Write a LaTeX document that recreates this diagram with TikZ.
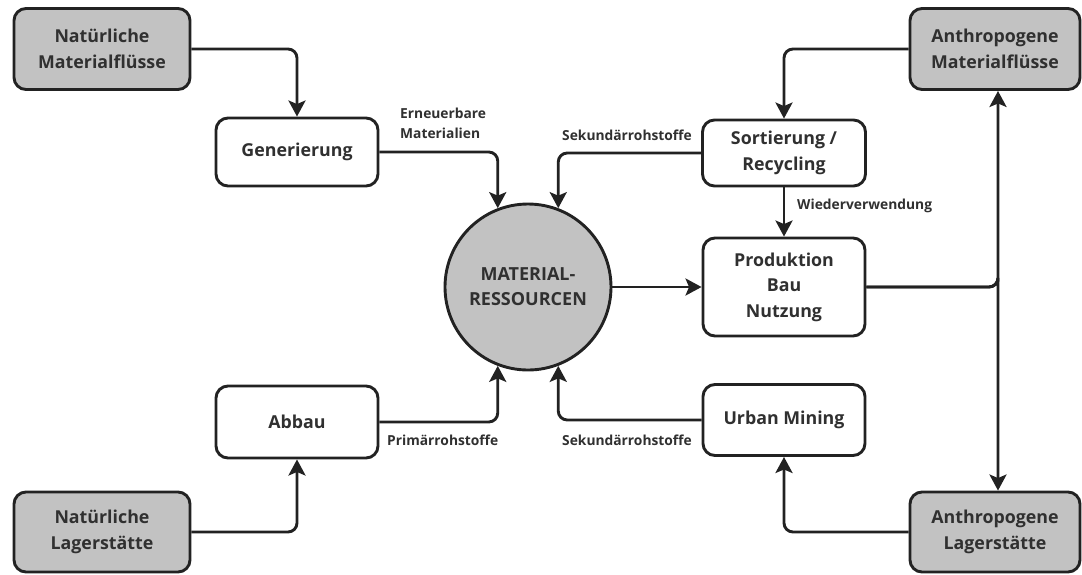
\documentclass[tikz,border=0pt]{standalone}
\usepackage{fontspec}
\setmainfont{Open Sans}
\usetikzlibrary{arrows.meta}

\definecolor{linec}{HTML}{222222}
\definecolor{textc}{HTML}{303030}
\definecolor{grayf}{HTML}{C2C2C2}

\begin{document}
\begin{tikzpicture}[x=1pt,y=-1pt,
  box/.style={draw=linec, line width=2.9pt, rounded corners=12pt, fill=white,
    align=center, text=textc, inner sep=0pt,
    font=\bfseries\fontsize{17.8}{25.5}\selectfont},
  store/.style={box, fill=grayf},
  flow/.style={draw=linec, line width=2.9pt, rounded corners=9pt,
    -{Stealth[length=16pt,width=17pt,inset=3.5pt]}},
  tag/.style={text=textc, inner sep=0pt, align=left,
    font=\bfseries\fontsize{13.8}{20}\selectfont}]
\useasboundingbox (0,0) rectangle (1082,574);

% Stores
\node[store, minimum width=176pt, minimum height=81pt] (natmat)  at (102,49)  {Natürliche\\Materialflüsse};
\node[store, minimum width=170pt, minimum height=81pt] (anthmat) at (995,49)  {Anthropogene\\Materialflüsse};
\node[store, minimum width=176pt, minimum height=80pt] (natlag)  at (102,532) {Natürliche\\Lagerstätte};
\node[store, minimum width=170pt, minimum height=80pt] (anthlag) at (995,532) {Anthropogene\\Lagerstätte};

% Processes
\node[box, minimum width=162pt, minimum height=68pt] (gen)   at (297,152) {Generierung};
\node[box, minimum width=162pt, minimum height=72pt] (abbau) at (297,422) {Abbau};
\node[box, minimum width=163pt, minimum height=66pt] (sort)  at (784,153) {Sortierung /\\Recycling};
\node[box, minimum width=162pt, minimum height=98pt] (prod)  at (784,287) {Produktion\\Bau\\Nutzung};
\node[box, minimum width=162pt, minimum height=71pt] (urban) at (784,420) {Urban Mining};

% Central resource pool
\node[circle, draw=linec, line width=2.9pt, fill=grayf, minimum size=166pt,
  inner sep=0pt, align=center, text=textc,
  font=\bfseries\fontsize{18}{25}\selectfont] (res) at (528,287) {MATERIAL-\\RESSOURCEN};

% Flows
\draw[flow] (natmat.east) -| (gen.north);
\draw[flow] (anthmat.west) -| (sort.north);
\draw[flow] (natlag.east) -| (abbau.south);
\draw[flow] (anthlag.west) -| (urban.south);

\draw[flow] (gen.east) -| (res.111);
\draw[flow] (sort.west) -| (res.69);
\draw[flow] (abbau.east) -| (res.249);
\draw[flow] (urban.west) -| (res.291);

\draw[flow] (res.east) -- (prod.west);
\draw[flow] (sort.south) -- (prod.north);

\coordinate (split) at (998,287);
\draw[flow] (prod.east) -| (split) -- (anthmat.south -| split);
\draw[flow] (prod.east) -| (split) -- (anthlag.north -| split);

% Flow labels
\node[tag, anchor=west] (lren)  at (400,123) {Erneuerbare\\Materialien};
\node[tag, anchor=west] (lsek1) at (562,135) {Sekundärrohstoffe};
\node[tag, anchor=west] (lwied) at (797,206) {Wiederverwendung};
\node[tag, anchor=west] (lprim) at (387,440) {Primärrohstoffe};
\node[tag, anchor=west] (lsek2) at (562,440) {Sekundärrohstoffe};
\end{tikzpicture}
\end{document}
